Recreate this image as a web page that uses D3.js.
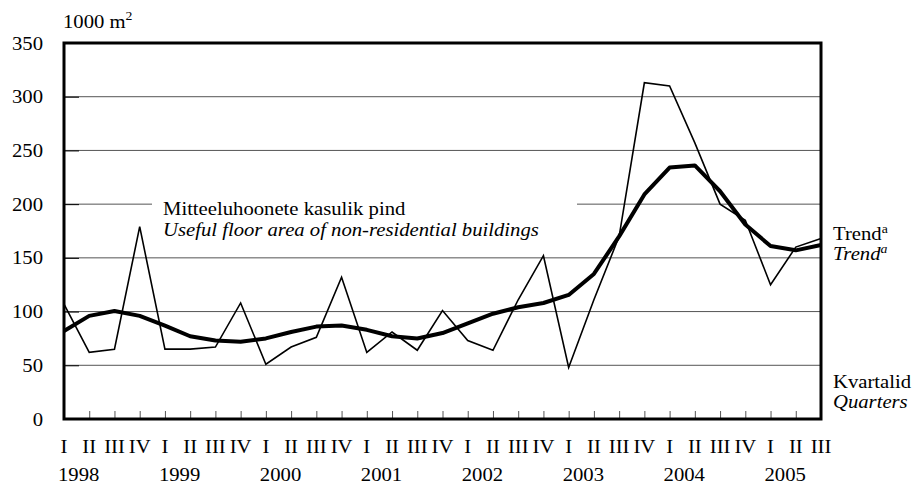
<!DOCTYPE html>
<html>
<head>
<meta charset="utf-8">
<script src="https://cdn.jsdelivr.net/npm/d3@7/dist/d3.min.js"></script>
<style>
  html, body { margin: 0; padding: 0; background: #fff; }
  svg { display: block; }
  text { font-family: "Liberation Serif", "Times New Roman", serif; fill: #000; }
</style>
</head>
<body>
<svg id="chart" width="919" height="484"></svg>
<script>
// Quarter labels and year labels along the horizontal axis
const quarterLabels = ["I","II","III","IV","I","II","III","IV","I","II","III","IV","I","II","III","IV",
                       "I","II","III","IV","I","II","III","IV","I","II","III","IV","I","II","III"];
const yearLabels = ["1998","1999","2000","2001","2002","2003","2004","2005"];
const yTicks = [0, 50, 100, 150, 200, 250, 300, 350];

// Useful floor area of non-residential buildings, 1000 m2 per quarter
const floorArea = [107, 62, 65, 179, 65, 65, 67, 108, 51, 67, 76, 132, 62, 81, 64, 101,
                   73, 64, 111, 152, 48, 111, 170, 313, 310, 257, 200, 185, 125, 160, 168];
// Trend of the same series
const trend = [82, 96, 100.5, 96, 87, 77, 73, 72, 75, 81, 86, 87, 83, 77, 75, 80,
               89, 98, 104, 108, 115.5, 135, 170, 209, 234, 236, 212, 181, 161, 157, 162];

const svg = d3.select("#chart");
const SX = 1.15;          // horizontal stretch of the serif lettering
const FS = 18;

const plotL = 64, plotR = 821, plotT = 43, plotB = 419;
const x = d3.scaleLinear().domain([0, quarterLabels.length - 1]).range([plotL, plotR]);
const y = d3.scaleLinear().domain([0, 350]).range([plotB, plotT]);

function label(g, tx, ty, str, opts = {}) {
  const t = g.append("text")
    .attr("transform", `translate(${tx},${ty}) scale(${SX},1)`)
    .attr("font-size", opts.size || FS)
    .attr("text-anchor", opts.anchor || "start")
    .attr("font-style", opts.italic ? "italic" : "normal");
  return t.text(str);
}

// Horizontal gridlines
svg.append("g").selectAll("line")
  .data(yTicks.filter(v => v > 0 && v < 350))
  .join("line")
  .attr("x1", plotL).attr("x2", plotR)
  .attr("y1", d => y(d)).attr("y2", d => y(d))
  .attr("stroke", "#555").attr("stroke-width", 1);

// Y axis: inward ticks and labels
const yAxis = svg.append("g")
  .attr("transform", `translate(${plotL},0)`)
  .call(d3.axisRight(y).tickValues(yTicks).tickSize(15).tickFormat(""));
yAxis.select(".domain").remove();
yAxis.selectAll(".tick line").attr("stroke", "#000").attr("stroke-width", 1);

const yLab = svg.append("g");
yTicks.forEach(v => label(yLab, 43, y(v) + 6.5, String(v), { anchor: "end" }));

// Unit label
const unit = label(svg, 63, 28, "1000 m");
unit.append("tspan").attr("font-size", 12).attr("dy", -8).text("2");

// X axis: small ticks at every quarter
const xAxis = svg.append("g")
  .attr("transform", `translate(0,${plotB})`)
  .call(d3.axisTop(x).tickValues(d3.range(1, quarterLabels.length - 1)).tickSize(8).tickFormat(""));
xAxis.select(".domain").remove();
xAxis.selectAll(".tick line").attr("stroke", "#555").attr("stroke-width", 1);

// Quarter and year labels
const xLab = svg.append("g");
quarterLabels.forEach((q, i) => label(xLab, x(i), 453, q, { anchor: "middle" }));
yearLabels.forEach((yr, k) => label(xLab, x(k * 4) - 6, 481, yr));

// Legend label with white background (interrupts the 200 gridline)
svg.append("rect")
  .attr("x", 152).attr("y", 196).attr("width", 425).attr("height", 48)
  .attr("fill", "#fff");
label(svg, 163, 215, "Mitteeluhoonete kasulik pind");
label(svg, 163, 236, "Useful floor area of non-residential buildings", { italic: true });

// Series lines
const line = d3.line().x((d, i) => x(i)).y(d => y(d));
svg.append("path").datum(floorArea)
  .attr("d", line).attr("fill", "none")
  .attr("stroke", "#000").attr("stroke-width", 1.6).attr("stroke-linejoin", "miter");
svg.append("path").datum(trend)
  .attr("d", line).attr("fill", "none")
  .attr("stroke", "#000").attr("stroke-width", 4).attr("stroke-linejoin", "round");

// Frame
svg.append("rect")
  .attr("x", plotL).attr("y", plotT).attr("width", plotR - plotL).attr("height", plotB - plotT)
  .attr("fill", "none").attr("stroke", "#000").attr("stroke-width", 3);

// Right side labels
const t1 = label(svg, 833, 240, "Trend");
t1.append("tspan").attr("font-size", 12).attr("dy", -7).text("a");
const t2 = label(svg, 833, 260, "Trend", { italic: true });
t2.append("tspan").attr("font-size", 12).attr("dy", -7).text("a");
label(svg, 833, 388, "Kvartalid");
label(svg, 833, 408, "Quarters", { italic: true });
</script>
</body>
</html>
